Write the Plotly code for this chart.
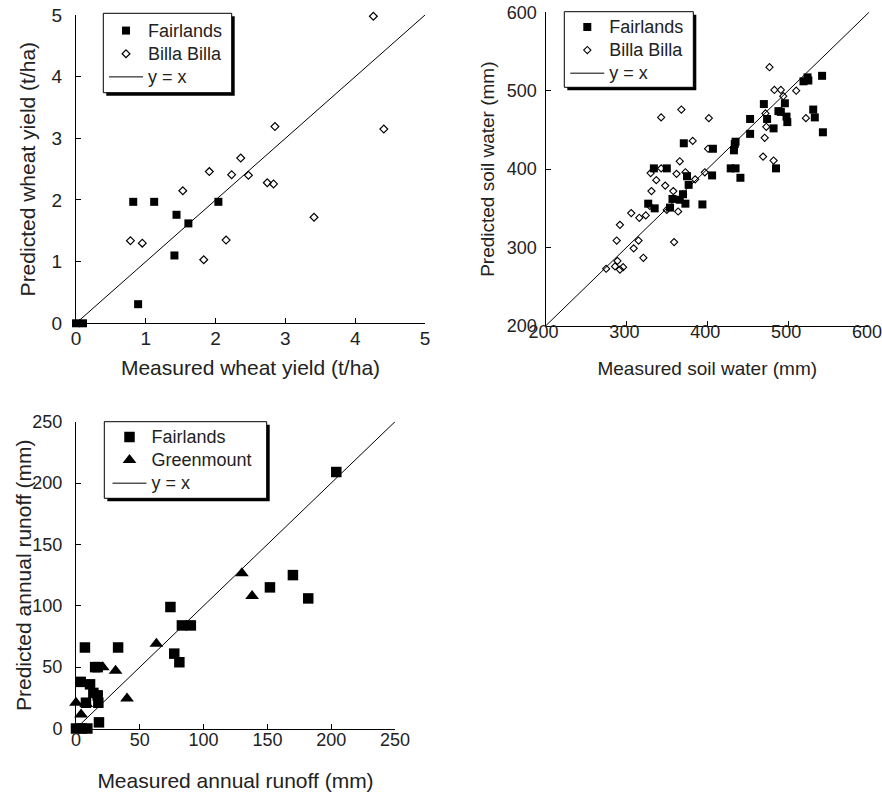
import plotly.graph_objects as go

# ---------------- Data ----------------
# Panel 1: wheat yield (t/ha)
wheat_fair_meas = [0.0, 0.1, 0.89, 0.82, 1.12, 1.41, 1.44, 1.61, 2.04]
wheat_fair_pred = [0.0, 0.0, 0.31, 1.97, 1.97, 1.10, 1.76, 1.62, 1.97]
wheat_billa_meas = [0.78, 0.95, 1.53, 1.83, 1.91, 2.15, 2.23, 2.36, 2.47, 2.74, 2.83, 2.85, 3.41, 4.26, 4.41]
wheat_billa_pred = [1.34, 1.30, 2.15, 1.03, 2.46, 1.35, 2.41, 2.68, 2.40, 2.28, 2.26, 3.19, 1.72, 4.98, 3.15]
wheat_line = [0, 5]

# Panel 2: soil water (mm)
soil_fair_meas = [334, 350, 327, 335, 354, 357, 366, 370, 373, 375, 377, 371, 394, 407, 406, 429, 435, 441,
                  433, 434, 435, 453, 453, 470, 474, 482, 485, 488, 491, 496, 498, 499, 519, 525, 524, 531,
                  533, 542, 543]
soil_fair_pred = [401, 401, 356, 350, 351, 362, 361, 368, 356, 391, 380, 433, 355, 426, 392, 401, 401, 389,
                  424, 432, 435, 445, 464, 483, 464, 452, 401, 474, 473, 484, 467, 460, 512, 513, 517, 476,
                  466, 519, 447]
soil_billa_meas = [275, 286, 289, 292, 296, 288, 292, 306, 309, 315, 321, 316, 324, 329, 331, 330, 337, 343,
                   343, 348, 350, 358, 359, 362, 364, 366, 368, 370, 373, 382, 385, 397, 401, 402, 469, 471,
                   472, 473, 477, 482, 483, 491, 494, 510, 522]
soil_billa_pred = [273, 276, 283, 272, 275, 309, 329, 344, 299, 309, 287, 338, 341, 353, 372, 395, 386, 401,
                   466, 379, 348, 372, 307, 394, 346, 410, 476, 368, 396, 436, 387, 396, 426, 465, 416, 440,
                   471, 454, 530, 411, 501, 501, 493, 500, 465]
soil_line = [200, 600]

# Panel 3: annual runoff (mm)
run_fair_meas = [204, 170, 152, 182, 74, 83, 90, 77, 81, 7, 33, 15, 17, 18, 3.7, 11, 13.6, 17, 17.5, 7.8, 0, 4.4, 8.9]
run_fair_pred = [209, 125, 115, 106, 99, 84, 84, 61, 54, 66, 66, 50, 50, 5, 38, 36, 29, 27, 21, 21, 0, 0, 0]
run_green_meas = [130, 138, 63, 21, 31, 40, 0, 8, 4]
run_green_pred = [126.5, 108, 69, 50, 47, 24.5, 21, 20, 11.5]
run_line = [0, 250]

FONT = "Liberation Sans, Arial, Helvetica, sans-serif"
TXT = "#222222"
W, H = 882, 794


def nm(s):
    return '<span style="font-size:18px">' + s + '</span>'


fig = go.Figure()

# Panel 1
fig.add_trace(go.Scatter(x=wheat_fair_meas, y=wheat_fair_pred, mode="markers", name=nm("Fairlands"),
                         marker=dict(symbol="square", size=8, color="black"), cliponaxis=False,
                         xaxis="x", yaxis="y", legend="legend"))
fig.add_trace(go.Scatter(x=wheat_billa_meas, y=wheat_billa_pred, mode="markers", name=nm("Billa Billa"),
                         marker=dict(symbol="diamond-open", size=6, color="black", line=dict(width=1.2)),
                         cliponaxis=False, xaxis="x", yaxis="y", legend="legend"))
fig.add_trace(go.Scatter(x=wheat_line, y=wheat_line, mode="lines", name=nm("y = x"),
                         line=dict(color="black", width=1), xaxis="x", yaxis="y", legend="legend"))

# Panel 2
fig.add_trace(go.Scatter(x=soil_fair_meas, y=soil_fair_pred, mode="markers", name=nm("Fairlands"),
                         marker=dict(symbol="square", size=8, color="black"), cliponaxis=False,
                         xaxis="x2", yaxis="y2", legend="legend2"))
fig.add_trace(go.Scatter(x=soil_billa_meas, y=soil_billa_pred, mode="markers", name=nm("Billa Billa"),
                         marker=dict(symbol="diamond-open", size=5.5, color="black", line=dict(width=1.1)),
                         cliponaxis=False, xaxis="x2", yaxis="y2", legend="legend2"))
fig.add_trace(go.Scatter(x=soil_line, y=soil_line, mode="lines", name=nm("y = x"),
                         line=dict(color="black", width=1), xaxis="x2", yaxis="y2", legend="legend2"))

# Panel 3
fig.add_trace(go.Scatter(x=run_fair_meas, y=run_fair_pred, mode="markers", name=nm("Fairlands"),
                         marker=dict(symbol="square", size=10.5, color="black"), cliponaxis=False,
                         xaxis="x3", yaxis="y3", legend="legend3"))
fig.add_trace(go.Scatter(x=run_green_meas, y=run_green_pred, mode="markers", name=nm("Greenmount"),
                         marker=dict(symbol="triangle-up", size=12, color="black"), cliponaxis=False,
                         xaxis="x3", yaxis="y3", legend="legend3"))
fig.add_trace(go.Scatter(x=run_line, y=run_line, mode="lines", name=nm("y = x"),
                         line=dict(color="black", width=1), xaxis="x3", yaxis="y3", legend="legend3"))


def ax(domain, rng, dtick, title, standoff, anchor, lblstand, tsize, fsize):
    d = dict(domain=domain, range=rng, dtick=dtick, tick0=rng[0], anchor=anchor,
             showline=True, linecolor="black", linewidth=1, showgrid=False, zeroline=False,
             ticks="inside", ticklen=5, tickwidth=1, tickcolor="black",
             tickfont=dict(size=fsize, color=TXT, family=FONT), ticklabelstandoff=lblstand,
             ticklabeloverflow="allow", automargin=False, fixedrange=True)
    if title:
        d["title"] = dict(text=title, font=dict(size=tsize, color=TXT, family=FONT), standoff=standoff)
    return d


def leg(xpx, ypx):
    return dict(x=xpx / W, y=1 - ypx / H, xanchor="left", yanchor="top", bgcolor="rgba(0,0,0,0)",
                borderwidth=0, itemwidth=34, font=dict(size=15.5, color=TXT, family=FONT),
                tracegroupgap=0)


def legend_box(x0, y0, x1, y1, off=3):
    return [
        dict(type="rect", xref="paper", yref="paper", layer="above",
             x0=(x0 + off) / W, x1=(x1 + off) / W, y0=1 - (y1 + off) / H, y1=1 - (y0 + off) / H,
             fillcolor="black", line=dict(width=0)),
        dict(type="rect", xref="paper", yref="paper", layer="above",
             x0=x0 / W, x1=x1 / W, y0=1 - y1 / H, y1=1 - y0 / H,
             fillcolor="white", line=dict(color="black", width=1)),
    ]


shapes = legend_box(103.3, 13.3, 231.7, 92.7) + legend_box(564.3, 11.7, 693.3, 87.3) \
    + legend_box(104.3, 421.7, 266.7, 498.3)

fig.update_layout(
    width=W, height=H,
    margin=dict(l=0, r=0, t=0, b=0),
    paper_bgcolor="white", plot_bgcolor="white",
    font=dict(family=FONT, color=TXT),
    xaxis=ax([76 / W, 425 / W], [0, 5], 1, "Measured wheat yield (t/ha)", 12, "y", -2, 21, 19),
    yaxis=ax([1 - 323.3 / H, 1 - 15 / H], [0, 5], 1, "Predicted wheat yield (t/ha)", 10, "x", 9, 21, 19),
    xaxis2=ax([545.5 / W, 869 / W], [200, 600], 100, "Measured soil water (mm)", 21, "y2", -11, 19, 18),
    yaxis2=ax([1 - 326 / H, 1 - 12.3 / H], [200, 600], 100, "Predicted soil water (mm)", 7, "x2", 4, 19, 18),
    xaxis3=ax([76 / W, 395 / W], [0, 250], 50, "Measured annual runoff (mm)", 24, "y3", -5, 21, 18),
    yaxis3=ax([1 - 728.5 / H, 1 - 421.7 / H], [0, 250], 50, None, 0, "x3", 9, 21, 18),
    legend=leg(104, 14),
    legend2=leg(565.3, 10.3),
    legend3=leg(107.5, 420.3),
    shapes=shapes,
    annotations=[dict(text="Predicted annual runoff (mm)", xref="paper", yref="paper",
                      x=23 / W, y=1 - 575 / H, textangle=-90, showarrow=False,
                      xanchor="center", yanchor="middle",
                      font=dict(size=21, color=TXT, family=FONT))],
)
fig.layout.xaxis2.ticklabelshift = -2

fig.write_html("out.html", config={"displayModeBar": False},
               post_script="document.body.style.margin='0';document.body.style.padding='0';")
